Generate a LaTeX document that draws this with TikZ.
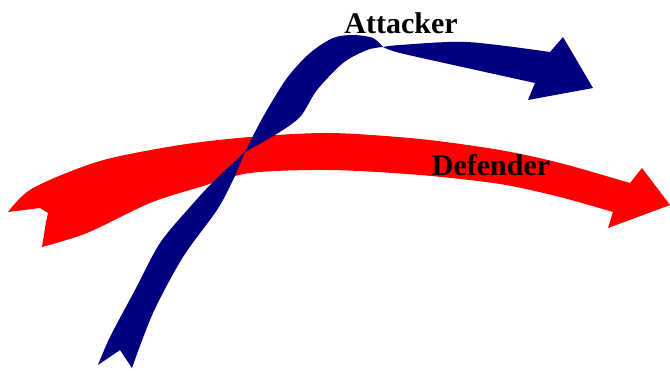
\documentclass[tikz,border=0pt]{standalone}
\usepackage{fontspec}
\setmainfont{Liberation Serif}
\definecolor{defred}{RGB}{255,0,0}
\definecolor{attblue}{RGB}{0,0,128}
\tikzset{
  label text/.style={font=\bfseries\fontsize{30}{30}\selectfont, text=black, inner sep=0pt, anchor=base}
}
\begin{document}
\begin{tikzpicture}[x=1pt,y=-1pt]
\useasboundingbox (0,0) rectangle (670,370);
% Defender (red)
\fill[defred] (48,213) -- (40,208) -- (8,212)
  -- plot[smooth] coordinates {(8,212) (33,188) (100,161) (180,145) (250,137) (330,133) (420,139) (500,150) (560,163) (630,183)}
  -- (642,168) -- (670,205) -- (608,228) -- (613,212)
  -- plot[smooth] coordinates {(613,212) (560,197) (500,184) (420,175) (330,170) (250,173) (200,187) (150,203) (87,233) (42,247)}
  -- (46,222) -- cycle;
% Attacker (blue)
\fill[attblue] (120,350) -- (98,365)
  -- plot[smooth] coordinates {(98,365) (110,337) (135,290) (160,243) (190,207) (213,182) (245,152)}
  -- plot[smooth] coordinates {(245,152) (263,117) (287,78) (310,53) (333,38) (353,35) (373,38) (383,47)}
  -- plot[smooth] coordinates {(383,47) (400,45) (467,42) (550,52)}
  -- (563,37) -- (593,88) -- (528,100) -- (535,83)
  -- plot[smooth] coordinates {(535,83) (467,68) (400,53) (383,47)}
  -- plot[smooth] coordinates {(383,47) (367,50) (343,63) (317,90) (300,117) (275,135) (245,152)}
  -- plot[smooth] coordinates {(245,152) (233,180) (217,210) (183,257) (153,313) (132,368)}
  -- cycle;
\node[label text] (attacker) at (401,33) {Attacker};
\node[label text] (defender) at (491,175) {Defender};
\end{tikzpicture}
\end{document}
